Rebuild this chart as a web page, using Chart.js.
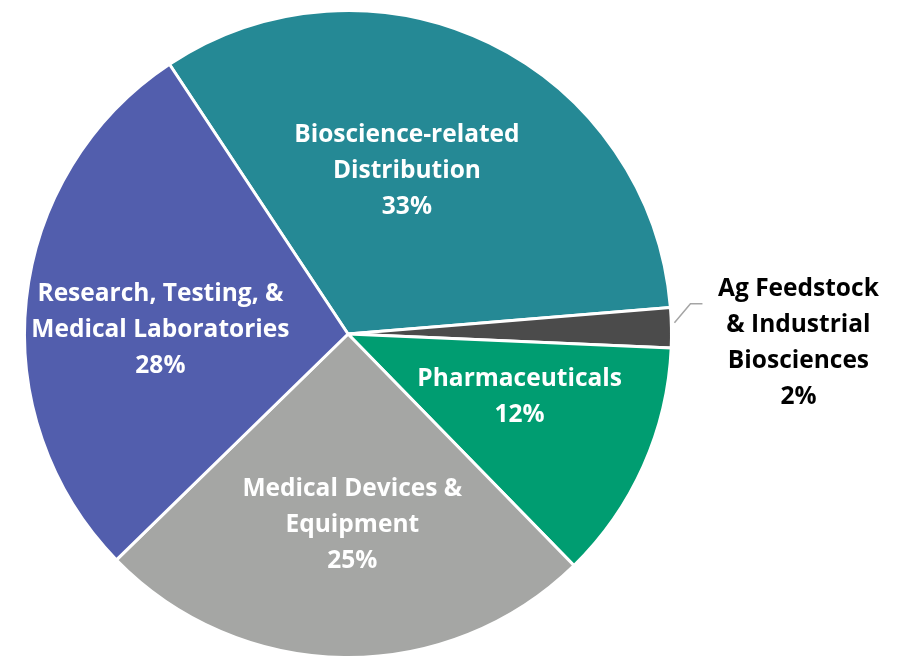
<!DOCTYPE html>
<html>
<head>
<meta charset="utf-8">
<script src="https://cdn.jsdelivr.net/npm/chart.js@4.4.1/dist/chart.umd.min.js"></script>
<style>
  html, body { margin: 0; padding: 0; background: #ffffff; overflow: hidden; }
  #wrap { width: 909px; height: 670px; position: relative; }
</style>
</head>
<body>
<div id="wrap"><canvas id="pie"></canvas></div>
<script>
// slices, clockwise from the top-left edge of the distribution slice
const categories = [
  ['Bioscience-related', 'Distribution'],
  ['Ag Feedstock', '& Industrial', 'Biosciences'],
  ['Pharmaceuticals'],
  ['Medical Devices &', 'Equipment'],
  ['Research, Testing, &', 'Medical Laboratories']
]
const shares = [33, 2, 12, 25, 28]
const sliceColors = ['#258995', '#4b4b4b', '#009d71', '#a5a6a4', '#525ead']

// label placement: distance from centre (fraction of radius) and angle nudge
const labelFrac = [0.535, 0, 0.565, 0.59, 0.58]
const labelNudge = [-6, 0, -4, -2, -5]

function $(x) {
  return document.getElementById(x)
}

const FONT = 'bold 24.5px "Open Sans", Lato, sans-serif'
const LINE_H = 36

const pieLabels = {
  id: 'pieLabels',
  afterDatasetsDraw(chart) {
    let ctx = chart.ctx
    let meta = chart.getDatasetMeta(0)
    ctx.save()
    ctx.font = FONT
    ctx.textAlign = 'center'
    ctx.textBaseline = 'middle'
    meta.data.forEach((arc, i) => {
      let p = arc.getProps(['x', 'y', 'startAngle', 'endAngle', 'outerRadius'], true)
      let lines = categories[i].concat([shares[i] + '%'])
      let mid = (p.startAngle + p.endAngle) / 2
      let cx, cy
      if (i == 1) {
        // outside label with leader line
        let ex = p.x + Math.cos(mid) * p.outerRadius
        let ey = p.y + Math.sin(mid) * p.outerRadius
        ctx.strokeStyle = '#a5a5a5'
        ctx.lineWidth = 1.5
        ctx.beginPath()
        ctx.moveTo(ex + 3, ey - 5)
        ctx.lineTo(ex + 19, ey - 24)
        ctx.lineTo(ex + 31, ey - 24)
        ctx.stroke()
        cx = ex + 127
        cy = ey + 15
        ctx.fillStyle = '#000000'
      } else {
        let a = mid + labelNudge[i] * Math.PI / 180
        cx = p.x + Math.cos(a) * p.outerRadius * labelFrac[i]
        cy = p.y + Math.sin(a) * p.outerRadius * labelFrac[i]
        ctx.fillStyle = '#ffffff'
      }
      let top = cy - (lines.length - 1) * LINE_H / 2
      for (let k = 0; k < lines.length; k++) {
        ctx.fillText(lines[k], cx, top + k * LINE_H)
      }
    })
    ctx.restore()
  }
}

let myChart = new Chart($('pie').getContext('2d'), {
  type: 'pie',
  data: {
    labels: categories.map(c => c.join(' ')),
    datasets: [{
      data: shares,
      backgroundColor: sliceColors,
      borderColor: '#ffffff',
      borderWidth: 3
    }]
  },
  options: {
    responsive: true,
    maintainAspectRatio: false,
    animation: false,
    rotation: -33.5,
    layout: { padding: { left: 22, right: 235, top: 9, bottom: 11 } },
    plugins: {
      legend: { display: false },
      tooltip: { enabled: false }
    }
  },
  plugins: [pieLabels]
})
</script>
</body>
</html>
